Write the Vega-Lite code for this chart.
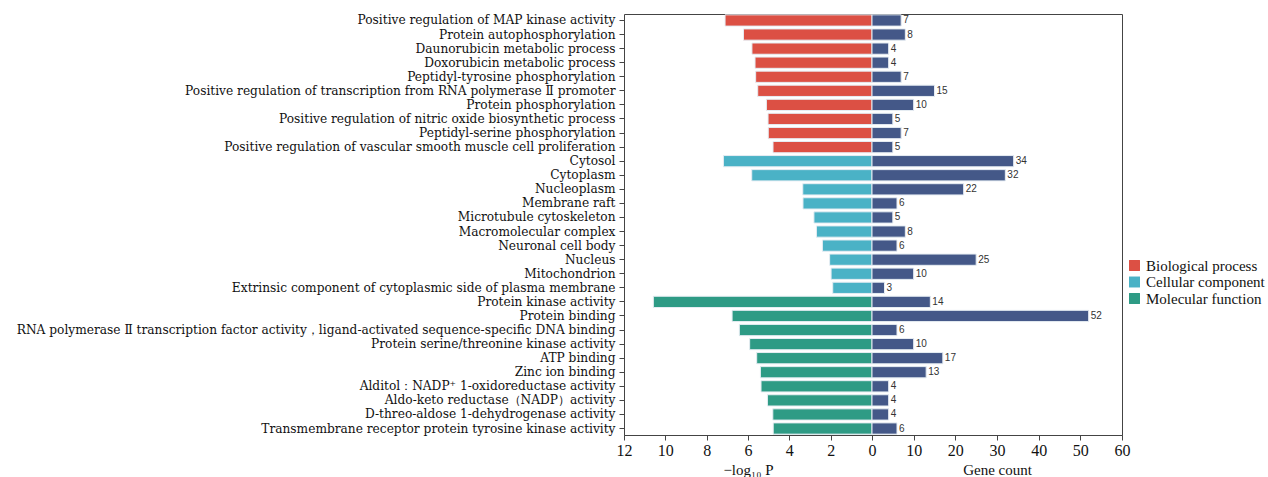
{
  "$schema": "https://vega.github.io/schema/vega-lite/v6.json",
  "autosize": {"type": "none"},
  "padding": {"left": 624, "top": 14, "right": 146, "bottom": 42},
  "width": 498,
  "height": 421,
  "config": {
    "view": {"stroke": "#444", "strokeWidth": 1},
    "font": "Liberation Serif",
    "axis": {"grid": false, "labelFont": "Liberation Serif", "titleFont": "Liberation Serif", "labelColor": "#111", "titleColor": "#111", "tickColor": "#444", "domainColor": "#444", "titleFontWeight": "normal", "labelFlush": false, "labelOverlap": false}
  },
  "data": {"values": [
    {"term": "Positive regulation of MAP kinase activity", "category": "Biological process", "logp": 7.11, "count": 7},
    {"term": "Protein autophosphorylation", "category": "Biological process", "logp": 6.22, "count": 8},
    {"term": "Daunorubicin metabolic process", "category": "Biological process", "logp": 5.81, "count": 4},
    {"term": "Doxorubicin metabolic process", "category": "Biological process", "logp": 5.66, "count": 4},
    {"term": "Peptidyl-tyrosine phosphorylation", "category": "Biological process", "logp": 5.63, "count": 7},
    {"term": "Positive regulation of transcription from RNA polymerase Ⅱ promoter", "category": "Biological process", "logp": 5.53, "count": 15},
    {"term": "Protein phosphorylation", "category": "Biological process", "logp": 5.11, "count": 10},
    {"term": "Positive regulation of nitric oxide biosynthetic process", "category": "Biological process", "logp": 5.03, "count": 5},
    {"term": "Peptidyl-serine phosphorylation", "category": "Biological process", "logp": 5.02, "count": 7},
    {"term": "Positive regulation of vascular smooth muscle cell proliferation", "category": "Biological process", "logp": 4.79, "count": 5},
    {"term": "Cytosol", "category": "Cellular component", "logp": 7.19, "count": 34},
    {"term": "Cytoplasm", "category": "Cellular component", "logp": 5.82, "count": 32},
    {"term": "Nucleoplasm", "category": "Cellular component", "logp": 3.35, "count": 22},
    {"term": "Membrane raft", "category": "Cellular component", "logp": 3.34, "count": 6},
    {"term": "Microtubule cytoskeleton", "category": "Cellular component", "logp": 2.81, "count": 5},
    {"term": "Macromolecular complex", "category": "Cellular component", "logp": 2.69, "count": 8},
    {"term": "Neuronal cell body", "category": "Cellular component", "logp": 2.40, "count": 6},
    {"term": "Nucleus", "category": "Cellular component", "logp": 2.05, "count": 25},
    {"term": "Mitochondrion", "category": "Cellular component", "logp": 1.98, "count": 10},
    {"term": "Extrinsic component of cytoplasmic side of plasma membrane", "category": "Cellular component", "logp": 1.90, "count": 3},
    {"term": "Protein kinase activity", "category": "Molecular function", "logp": 10.58, "count": 14},
    {"term": "Protein binding", "category": "Molecular function", "logp": 6.77, "count": 52},
    {"term": "RNA polymerase Ⅱ transcription factor activity，ligand-activated sequence-specific DNA binding", "category": "Molecular function", "logp": 6.42, "count": 6},
    {"term": "Protein serine/threonine kinase activity", "category": "Molecular function", "logp": 5.92, "count": 10},
    {"term": "ATP binding", "category": "Molecular function", "logp": 5.58, "count": 17},
    {"term": "Zinc ion binding", "category": "Molecular function", "logp": 5.40, "count": 13},
    {"term": "Alditol：NADP⁺ 1-oxidoreductase activity", "category": "Molecular function", "logp": 5.37, "count": 4},
    {"term": "Aldo-keto reductase（NADP）activity", "category": "Molecular function", "logp": 5.06, "count": 4},
    {"term": "D-threo-aldose 1-dehydrogenase activity", "category": "Molecular function", "logp": 4.80, "count": 4},
    {"term": "Transmembrane receptor protein tyrosine kinase activity", "category": "Molecular function", "logp": 4.78, "count": 6}
  ]},
  "layer": [
    {
      "mark": {"type": "bar", "stroke": "#e6edf3", "strokeWidth": 1},
      "encoding": {
        "y": {"field": "term", "type": "nominal", "sort": null, "scale": {"paddingInner": 0.2, "paddingOuter": 0.06},
              "axis": {"title": null, "labelFont": "DejaVu Serif", "labelFontSize": 12.2, "labelLimit": 700, "labelPadding": 4, "tickSize": 5, "domain": false}},
        "x": {"field": "logp", "type": "quantitative", "scale": {"domain": [0, 12], "range": [248, 0], "nice": false},
              "axis": {"orient": "bottom", "values": [0, 2, 4, 6, 8, 10, 12], "title": "−log₁₀ P", "labelFontSize": 16, "titleFontSize": 15, "tickSize": 5, "titlePadding": 4}},
        "color": {"field": "category", "type": "nominal",
                  "scale": {"domain": ["Biological process", "Cellular component", "Molecular function"], "range": ["#dc5044", "#4ab2c6", "#2e9b85"]},
                  "legend": {"title": null, "orient": "none", "legendX": 503, "legendY": 244, "symbolType": "square", "symbolSize": 120, "symbolStrokeWidth": 0, "labelFont": "Liberation Serif", "labelFontSize": 15, "labelColor": "#111", "rowPadding": 0.5}}
      }
    },
    {
      "layer": [
        {
          "mark": {"type": "bar", "color": "#445888", "stroke": "#e6edf3", "strokeWidth": 1},
          "encoding": {
            "y": {"field": "term", "type": "nominal", "sort": null},
            "x": {"field": "count", "type": "quantitative", "scale": {"domain": [0, 60], "range": [248, 498], "nice": false},
                  "axis": {"orient": "bottom", "values": [10, 20, 30, 40, 50, 60], "title": "Gene count", "labelFontSize": 16, "titleFontSize": 15, "tickSize": 5, "titlePadding": 4}}
          }
        },
        {
          "mark": {"type": "text", "align": "left", "baseline": "middle", "dx": 2, "font": "Liberation Sans", "fontSize": 10, "color": "#333"},
          "encoding": {
            "y": {"field": "term", "type": "nominal", "sort": null},
            "x": {"field": "count", "type": "quantitative"},
            "text": {"field": "count", "type": "quantitative"}
          }
        }
      ]
    }
  ],
  "resolve": {"scale": {"x": "independent"}, "axis": {"x": "independent"}}
}
